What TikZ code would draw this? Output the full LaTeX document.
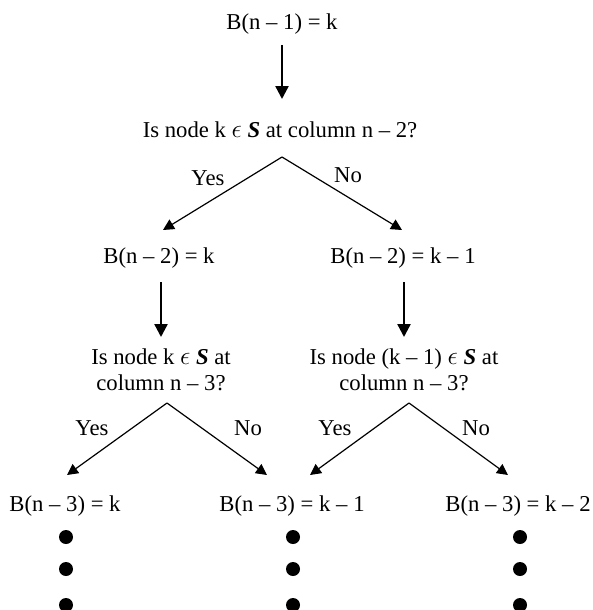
\documentclass[tikz,border=0pt]{standalone}
\usepackage{fontspec}
\usepackage{graphicx}
\setmainfont{Liberation Serif}
\usetikzlibrary{arrows.meta}
\begin{document}
\begin{tikzpicture}[x=1pt,y=-1pt,
  txt/.style={inner sep=0pt,anchor=base,font=\fontsize{22.7}{26}\selectfont,align=center},
  lbl/.style={inner sep=0pt,anchor=base,font=\fontsize{22.7}{26}\selectfont},
  down/.style={line width=2.4pt,-{Triangle[length=13pt,width=13pt]}},
  branch/.style={line width=1.2pt,-{Triangle[length=11pt,width=11pt]}},
  dot/.style={circle,fill=black,inner sep=0pt,minimum size=14pt}]
\useasboundingbox (0,0) rectangle (593,610);
\newcommand{\Sset}{\textbf{\textit{S}}}
\newcommand{\elem}{\scalebox{1.25}{$\epsilon$}}
% top level
\node[txt] (b1) at (282,29.5) {B(n -- 1) = k};
\node[txt] (q1) at (280,137.7) {Is node k \elem{} \Sset{} at column n -- 2?};
\coordinate (a1s) at (282,45);  \coordinate (a1e) at (282,99);
\draw[down] (a1s) -- (a1e);
% first split
\coordinate (p1) at (282,157);
\coordinate (t1l) at (163,230); \coordinate (t1r) at (402,230);
\draw[branch] (p1) -- (t1l);
\draw[branch] (p1) -- (t1r);
\node[lbl] (y1) at (208,185) {Yes};
\node[lbl] (n1) at (348,182.5) {No};
\node[txt] (b2l) at (159,263) {B(n -- 2) = k};
\node[txt] (b2r) at (403,263) {B(n -- 2) = k -- 1};
% second level questions (base anchor sits on the last line)
\coordinate (a2ls) at (161,282); \coordinate (a2le) at (161,337);
\coordinate (a2rs) at (404,282); \coordinate (a2re) at (404,337);
\draw[down] (a2ls) -- (a2le);
\draw[down] (a2rs) -- (a2re);
\node[txt] (q2l) at (161,390) {Is node k \elem{} \Sset{} at\\column n -- 3?};
\node[txt] (q2r) at (404,390) {Is node (k -- 1) \elem{} \Sset{} at\\column n -- 3?};
% second splits
\coordinate (p2l) at (167,403); \coordinate (p2r) at (409,403);
\coordinate (t2a) at (67,475);  \coordinate (t2b) at (267,475);
\coordinate (t2c) at (310,475); \coordinate (t2d) at (508,475);
\draw[branch] (p2l) -- (t2a);
\draw[branch] (p2l) -- (t2b);
\draw[branch] (p2r) -- (t2c);
\draw[branch] (p2r) -- (t2d);
\node[lbl] (y2l) at (92,435) {Yes};
\node[lbl] (n2l) at (248,435) {No};
\node[lbl] (y2r) at (335,435) {Yes};
\node[lbl] (n2r) at (476,435) {No};
% outcomes
\node[txt] (b3a) at (65,511.7) {B(n -- 3) = k};
\node[txt] (b3b) at (292,511.7) {B(n -- 3) = k -- 1};
\node[txt] (b3c) at (518,511.7) {B(n -- 3) = k -- 2};
% continuation dots
\foreach \x/\n in {66/a,293/b,520/c}{
  \node[dot] (d\n1) at (\x,537) {};
  \node[dot] (d\n2) at (\x,569) {};
  \node[dot] (d\n3) at (\x,605) {};
}
\end{tikzpicture}
\end{document}
